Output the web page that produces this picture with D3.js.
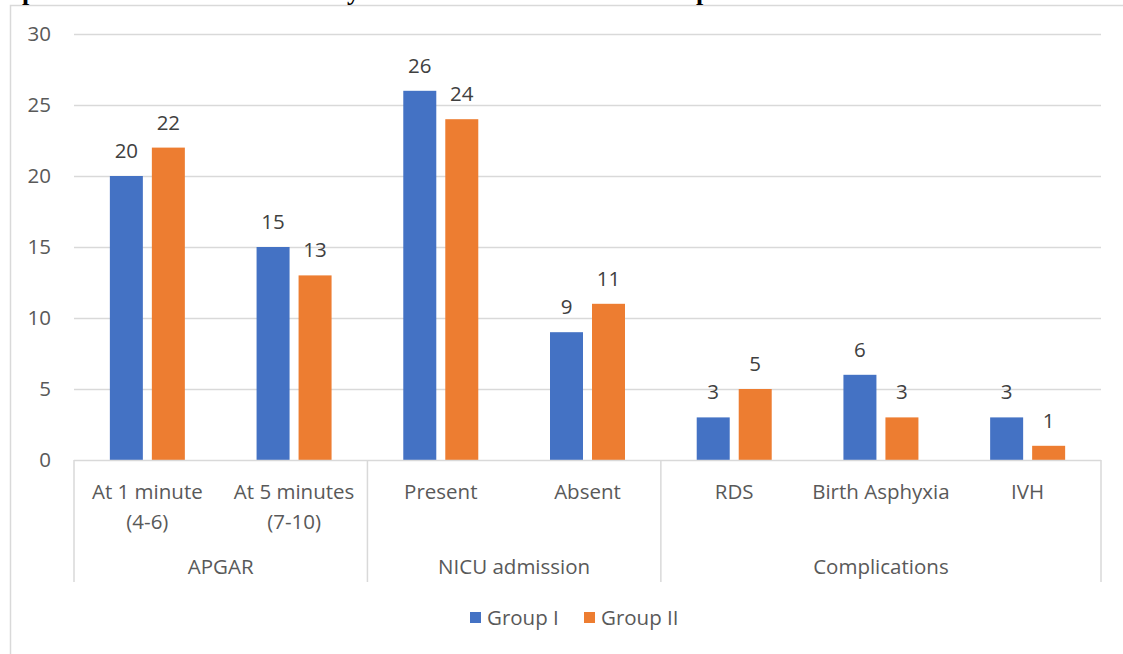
<!DOCTYPE html>
<html>
<head>
<meta charset="utf-8">
<script src="https://cdn.jsdelivr.net/npm/d3@7"></script>
<style>
  html, body { margin: 0; padding: 0; background: #fff; }
  svg { display: block; }
  text { font-family: "Open Sans", Lato, "Liberation Sans", sans-serif; }
</style>
</head>
<body>
<svg id="chart" width="1123" height="654"></svg>
<script>
// Neonatal outcome counts per group
const categories = ["At 1 minute|(4-6)", "At 5 minutes|(7-10)", "Present", "Absent", "RDS", "Birth Asphyxia", "IVH"];
const groups = [
  { name: "APGAR", size: 2 },
  { name: "NICU admission", size: 2 },
  { name: "Complications", size: 3 }
];
const seriesNames = ["Group I", "Group II"];
const groupI = [20, 15, 26, 9, 3, 6, 3];
const groupII = [22, 13, 24, 11, 5, 3, 1];
const yTicks = [0, 5, 10, 15, 20, 25, 30];
const colors = ["#4472C4", "#ED7D31"];

const FS = "20.5px";
const svg = d3.select("#chart");
const plot = { left: 74, right: 1101, top: 34, bottom: 460 };

// Outer chart frame (only top and left edges fall inside the view)
svg.append("path")
  .attr("d", `M10.5,654 V5.5 H1123`)
  .attr("fill", "none").attr("stroke", "#d9d9d9").attr("stroke-width", 1.5);

// Title line above the frame, mostly outside the view
svg.append("g").selectAll("text")
  .data([{ t: "p", x: 22 }, { t: "y", x: 347 }, { t: "p", x: 696 }])
  .join("text")
  .attr("x", d => d.x).attr("y", 0)
  .style("font-family", "'Liberation Serif', serif")
  .style("font-weight", "bold").style("font-size", "26px")
  .attr("fill", "#000").text(d => d.t);

const x = d3.scaleBand().domain(d3.range(categories.length))
  .range([plot.left, plot.right]).paddingInner(0).paddingOuter(0);
const y = d3.scaleLinear().domain([0, 30]).range([plot.bottom, plot.top]);

// Horizontal gridlines
svg.append("g").selectAll("line").data(yTicks.filter(t => t > 0)).join("line")
  .attr("x1", plot.left).attr("x2", plot.right)
  .attr("y1", d => Math.round(y(d)) + 0.5).attr("y2", d => Math.round(y(d)) + 0.5)
  .attr("stroke", "#d9d9d9").attr("stroke-width", 1.5);

// Y axis tick labels
const yAxis = svg.append("g").attr("transform", `translate(${plot.left},0)`)
  .call(d3.axisLeft(y).tickValues(yTicks).tickSize(0).tickPadding(23));
yAxis.select(".domain").remove();
yAxis.selectAll("text").style("font-size", FS).attr("fill", "#595959")
  .style("font-family", "'Open Sans', Lato, sans-serif");

// Bars with value labels
const barW = 33, gap = 9;
const series = [groupI, groupII];
series.forEach((vals, si) => {
  const off = si === 0 ? -gap / 2 - barW : gap / 2;
  const gBars = svg.append("g");
  gBars.selectAll("rect").data(vals).join("rect")
    .attr("x", (d, i) => x(i) + x.bandwidth() / 2 + off)
    .attr("y", d => y(d))
    .attr("width", barW)
    .attr("height", d => y(0) - y(d))
    .attr("fill", colors[si]);
  gBars.selectAll("text").data(vals).join("text")
    .attr("x", (d, i) => x(i) + x.bandwidth() / 2 + off + barW / 2)
    .attr("y", d => y(d) - 18)
    .attr("text-anchor", "middle")
    .style("font-size", FS).attr("fill", "#404040")
    .text(d => d);
});

// Category axis line
svg.append("line")
  .attr("x1", plot.left).attr("x2", plot.right)
  .attr("y1", plot.bottom + 0.5).attr("y2", plot.bottom + 0.5)
  .attr("stroke", "#d9d9d9").attr("stroke-width", 1.5);

// Group dividers
let acc = 0;
const bounds = [0];
groups.forEach(g => { acc += g.size; bounds.push(acc); });
svg.append("g").selectAll("line").data(bounds).join("line")
  .attr("x1", d => (d < categories.length ? x(d) : plot.right))
  .attr("x2", d => (d < categories.length ? x(d) : plot.right))
  .attr("y1", plot.bottom).attr("y2", 582)
  .attr("stroke", "#d9d9d9").attr("stroke-width", 1.5);

// Category labels (two lines where needed)
const catG = svg.append("g");
categories.forEach((c, i) => {
  const lines = c.split("|");
  const t = catG.append("text")
    .attr("x", x(i) + x.bandwidth() / 2)
    .attr("y", 499)
    .attr("text-anchor", "middle")
    .style("font-size", FS).attr("fill", "#595959");
  lines.forEach((l, k) => {
    t.append("tspan").attr("x", x(i) + x.bandwidth() / 2)
      .attr("dy", k === 0 ? 0 : 30).text(l);
  });
});

// Group labels
svg.append("g").selectAll("text").data(groups).join("text")
  .attr("x", (g, gi) => {
    const a = bounds[gi], b = bounds[gi + 1];
    const x0 = x(a), x1 = b < categories.length ? x(b) : plot.right;
    return (x0 + x1) / 2;
  })
  .attr("y", 574)
  .attr("text-anchor", "middle")
  .style("font-size", FS).attr("fill", "#595959")
  .text(g => g.name);

// Legend
const legend = svg.append("g");
const legendX = [470, 584];
seriesNames.forEach((n, i) => {
  legend.append("rect").attr("x", legendX[i]).attr("y", 612)
    .attr("width", 11).attr("height", 11).attr("fill", colors[i]);
  legend.append("text").attr("x", legendX[i] + 17).attr("y", 625)
    .style("font-size", FS).attr("fill", "#595959").text(n);
});
</script>
</body>
</html>
